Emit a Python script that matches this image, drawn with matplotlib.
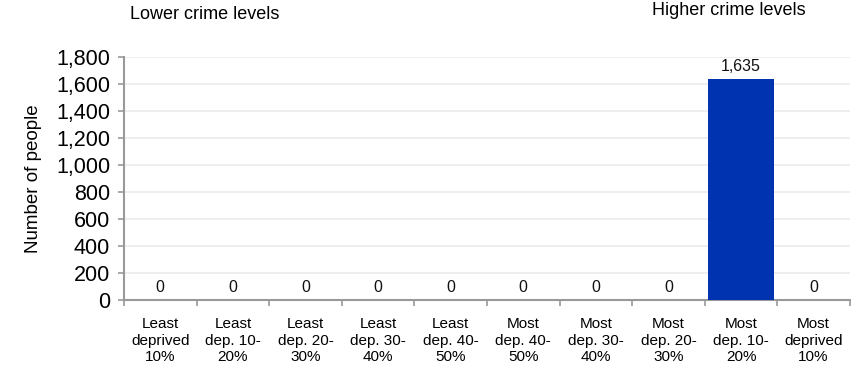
import matplotlib.pyplot as plt
import numpy as np

plt.rcParams['font.family'] = ['Liberation Sans', 'DejaVu Sans']

categories = ["Least\ndeprived\n10%", "Least\ndep. 10-\n20%", "Least\ndep. 20-\n30%",
              "Least\ndep. 30-\n40%", "Least\ndep. 40-\n50%", "Most\ndep. 40-\n50%",
              "Most\ndep. 30-\n40%", "Most\ndep. 20-\n30%", "Most\ndep. 10-\n20%",
              "Most\ndeprived\n10%"]
people = [0, 0, 0, 0, 0, 0, 0, 0, 1635, 0]
yticks = [0, 200, 400, 600, 800, 1000, 1200, 1400, 1600, 1800]

fig = plt.figure(figsize=(8.51, 3.71), dpi=100)
ax = fig.add_axes([0.1457, 0.1914, 0.853, 0.655])

x = np.arange(len(categories))
ax.bar(x, people, width=0.92, color='#0033b0', zorder=3)

for xi, v in zip(x, people):
    ax.text(xi, v + 40, f"{v:,}", ha='center', va='bottom', fontsize=11.5, color='#111111')

ax.set_xlim(-0.5, len(categories) - 0.5)
ax.set_ylim(0, 1800)
ax.set_yticks(yticks)
ax.set_yticklabels([f"{t:,}" for t in yticks], fontsize=15.5)
ax.yaxis.grid(True, color='#ebebeb', linewidth=1.2, zorder=0)
ax.set_axisbelow(True)

ax.set_xticks(x)
ax.set_xticklabels(categories, fontsize=11, linespacing=1.2)
ax.tick_params(axis='x', length=0, pad=12.5)
ax.set_xticks(np.arange(-0.5, len(categories), 1), minor=True)
ax.tick_params(axis='x', which='minor', length=4, color='#999999', width=1.2)
ax.tick_params(axis='y', length=4, color='#999999', width=1.2, pad=6)

for s in ['top', 'right']:
    ax.spines[s].set_visible(False)
for s in ['left', 'bottom']:
    ax.spines[s].set_color('#999999')
    ax.spines[s].set_linewidth(1.5)

ax.set_ylabel("Number of people", fontsize=13.5)
ax.yaxis.set_label_coords(-0.1125, 0.5)

fig.text(0.153, 0.962, "Lower crime levels", fontsize=13, ha='left', va='center')
fig.text(0.766, 0.973, "Higher crime levels", fontsize=13, ha='left', va='center')

fig.savefig("out.png", dpi=100)
